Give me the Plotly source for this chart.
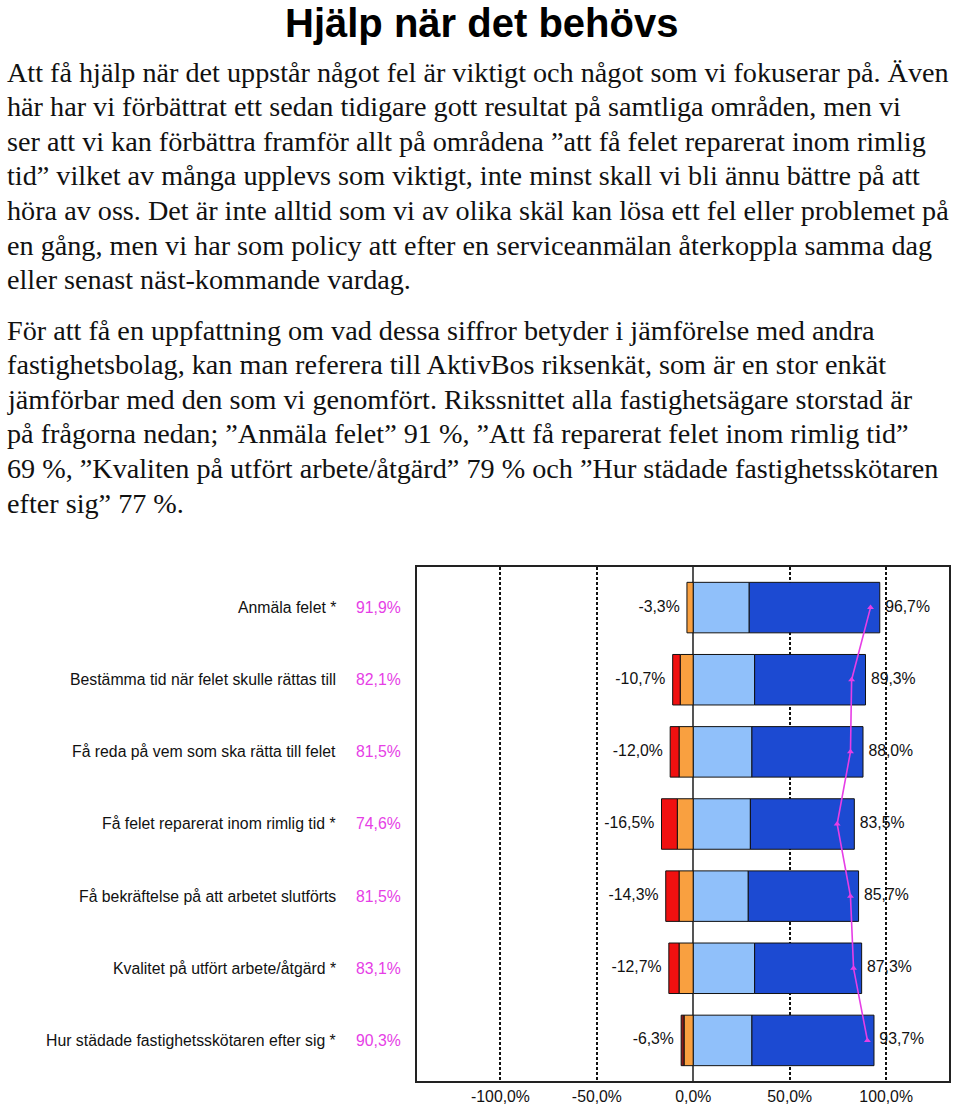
import plotly.graph_objects as go

# ---------------- data ----------------
categories = [
    "Anmäla felet *",
    "Bestämma tid när felet skulle rättas till",
    "Få reda på vem som ska rätta till felet",
    "Få felet reparerat inom rimlig tid *",
    "Få bekräftelse på att arbetet slutförts",
    "Kvalitet på utfört arbete/åtgärd *",
    "Hur städade fastighetsskötaren efter sig *",
]
mean_values = [91.9, 82.1, 81.5, 74.6, 81.5, 83.1, 90.3]

very_dissatisfied = [0, 0, 0, 0, 0, 0, 1.5]
dissatisfied = [0, 3.9, 4.6, 8.2, 6.9, 5.3, 0]
rather_dissatisfied = [3.3, 6.8, 7.4, 8.3, 7.4, 7.4, 4.8]
rather_satisfied = [29.0, 31.8, 30.4, 29.6, 28.5, 31.8, 30.4]
very_satisfied = [67.7, 57.5, 57.6, 53.9, 57.2, 55.5, 63.3]

neg_labels = ["-3,3%", "-10,7%", "-12,0%", "-16,5%", "-14,3%", "-12,7%", "-6,3%"]
pos_labels = ["96,7%", "89,3%", "88,0%", "83,5%", "85,7%", "87,3%", "93,7%"]

x_tickvals = [-100, -50, 0, 50, 100]
x_ticktext = ["-100,0%", "-50,0%", "0,0%", "50,0%", "100,0%"]

title_text = "Hjälp när det behövs"
body_para1 = [
    "Att få hjälp när det uppstår något fel är viktigt och något som vi fokuserar på. Även",
    "här har vi förbättrat ett sedan tidigare gott resultat på samtliga områden, men vi",
    "ser att vi kan förbättra framför allt på områdena ”att få felet reparerat inom rimlig",
    "tid” vilket av många upplevs som viktigt, inte minst skall vi bli ännu bättre på att",
    "höra av oss. Det är inte alltid som vi av olika skäl kan lösa ett fel eller problemet på",
    "en gång, men vi har som policy att efter en serviceanmälan återkoppla samma dag",
    "eller senast näst-kommande vardag.",
]
body_para2 = [
    "För att få en uppfattning om vad dessa siffror betyder i jämförelse med andra",
    "fastighetsbolag, kan man referera till AktivBos riksenkät, som är en stor enkät",
    "jämförbar med den som vi genomfört. Rikssnittet alla fastighetsägare storstad är",
    "på frågorna nedan; ”Anmäla felet” 91 %, ”Att få reparerat felet inom rimlig tid”",
    "69 %, ”Kvaliten på utfört arbete/åtgärd” 79 % och ”Hur städade fastighetsskötaren",
    "efter sig” 77 %.",
]

# ---------------- style / layout constants ----------------
W, H = 960, 1108
PLOT_L, PLOT_R, PLOT_T, PLOT_B = 417, 949, 567, 1081
SANS = "Liberation Sans, Arial, sans-serif"
SERIF = "Liberation Serif, Times New Roman, serif"
CHART_FS = 15.8
BODY_FS = 28.2
LINE_STEP = 34.6
P1_FIRST_CENTER = 72
P2_FIRST_CENTER = 330
PINK = "#e63ee6"
COL_DARKRED = "#8a1a1a"
COL_RED = "#f01010"
COL_ORANGE = "#f9a040"
COL_LIGHT = "#90c0fa"
COL_DARK = "#1c4ad2"


def px_x(p):
    return p / W


def px_y(p):
    return 1 - p / H


def nz(vals, sign=1):
    return [sign * v if v else None for v in vals]


fig = go.Figure()

bar_common = dict(orientation="h", y=categories, width=0.70,
                  hoverinfo="skip", showlegend=False)

fig.add_trace(go.Bar(x=nz(rather_dissatisfied, -1),
                     marker=dict(color=COL_ORANGE, line=dict(color="#111", width=1)),
                     **bar_common))
fig.add_trace(go.Bar(x=nz(dissatisfied, -1),
                     marker=dict(color=COL_RED, line=dict(color="#111", width=1)),
                     **bar_common))
fig.add_trace(go.Bar(x=nz(very_dissatisfied, -1),
                     marker=dict(color=COL_DARKRED, line=dict(color="#111", width=1)),
                     **bar_common))
fig.add_trace(go.Bar(x=nz(rather_satisfied),
                     marker=dict(color=COL_LIGHT, line=dict(color="#111", width=1)),
                     **bar_common))
fig.add_trace(go.Bar(x=nz(very_satisfied),
                     marker=dict(color=COL_DARK, line=dict(color="#111", width=1)),
                     **bar_common))

neg_tot = [-(a + b + c) for a, b, c in zip(very_dissatisfied, dissatisfied, rather_dissatisfied)]
pos_tot = [a + b for a, b in zip(rather_satisfied, very_satisfied)]

fig.add_trace(go.Scatter(x=neg_tot, y=categories, mode="markers+text", text=neg_labels,
                         textposition="middle left",
                         marker=dict(size=10, opacity=0),
                         textfont=dict(family=SANS, size=CHART_FS, color="#111"),
                         hoverinfo="skip", showlegend=False))
fig.add_trace(go.Scatter(x=pos_tot, y=categories, mode="markers+text", text=pos_labels,
                         textposition="middle right",
                         marker=dict(size=7, opacity=0),
                         textfont=dict(family=SANS, size=CHART_FS, color="#111"),
                         hoverinfo="skip", showlegend=False))

fig.add_trace(go.Scatter(x=mean_values, y=categories, mode="lines+markers",
                         line=dict(color=PINK, width=1.6),
                         marker=dict(symbol="triangle-up", size=6, color=PINK),
                         hoverinfo="skip", showlegend=False))

annotations = []
for cat, mv in zip(categories, mean_values):
    annotations.append(dict(x=px_x(338), xref="paper", y=cat, yref="y",
                            text=cat, showarrow=False, xanchor="right", yanchor="middle",
                            font=dict(family=SANS, size=CHART_FS, color="#111")))
    annotations.append(dict(x=px_x(403), xref="paper", y=cat, yref="y",
                            text=f"{mv:.1f}%".replace(".", ","), showarrow=False,
                            xanchor="right", yanchor="middle",
                            font=dict(family=SANS, size=CHART_FS, color=PINK)))

annotations.append(dict(x=px_x(481), xref="paper", y=px_y(23), yref="paper",
                        text=f"<b>{title_text}</b>", showarrow=False,
                        xanchor="center", yanchor="middle",
                        font=dict(family=SANS, size=40, color="#000")))

for i, line in enumerate(body_para1):
    annotations.append(dict(x=px_x(5), xref="paper", y=px_y(P1_FIRST_CENTER + i * LINE_STEP),
                            yref="paper", text=line, showarrow=False,
                            xanchor="left", yanchor="middle",
                            font=dict(family=SERIF, size=BODY_FS, color="#111")))
for i, line in enumerate(body_para2):
    annotations.append(dict(x=px_x(5), xref="paper", y=px_y(P2_FIRST_CENTER + i * LINE_STEP),
                            yref="paper", text=line, showarrow=False,
                            xanchor="left", yanchor="middle",
                            font=dict(family=SERIF, size=BODY_FS, color="#111")))

fig.update_layout(
    width=W, height=H,
    margin=dict(l=0, r=0, t=0, b=0),
    paper_bgcolor="white", plot_bgcolor="white",
    barmode="relative", bargap=0.3,
    showlegend=False,
    annotations=annotations,
    xaxis=dict(
        domain=[px_x(PLOT_L), px_x(PLOT_R)],
        range=[-143.3, 132.6],
        tickvals=x_tickvals, ticktext=x_ticktext,
        tickfont=dict(family=SANS, size=CHART_FS, color="#111"),
        ticks="", showgrid=True, gridcolor="#111", gridwidth=1.5,
        griddash="3px,2px",
        zeroline=True, zerolinecolor="#555", zerolinewidth=1.5,
        showline=True, linecolor="#222", linewidth=1.5, mirror=True,
        fixedrange=True,
    ),
    yaxis=dict(
        domain=[px_y(PLOT_B), px_y(PLOT_T)],
        type="category",
        categoryorder="array", categoryarray=categories,
        range=[6.5625, -0.5625],
        showticklabels=False, ticks="", showgrid=False, zeroline=False,
        showline=True, linecolor="#222", linewidth=1.5, mirror=True,
        fixedrange=True,
    ),
)

fig.write_html(
    "out.html",
    config={"displayModeBar": False},
    post_script="document.body.style.margin='0';document.body.style.padding='0';",
)
